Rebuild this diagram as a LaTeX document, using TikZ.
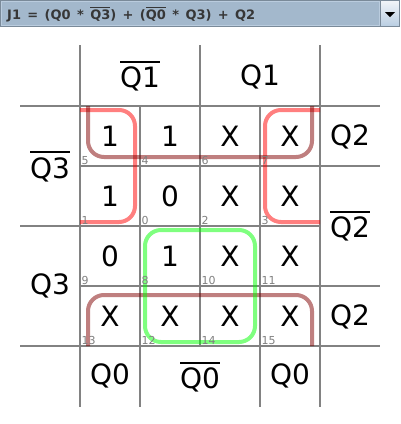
\documentclass[tikz,border=0pt]{standalone}
\usepackage{fontspec}
\setmainfont{DejaVu Sans}
\newcommand\ovl[3]{\leavevmode\vbox{\hrule height #2\kern #3\hbox{#1}}}
\definecolor{gridgray}{RGB}{130,130,130}
\definecolor{idxgray}{RGB}{128,128,128}
\definecolor{hdrfill}{RGB}{163,184,204}
\definecolor{hdrborder}{RGB}{122,138,153}
\definecolor{hdrinner}{RGB}{186,204,222}
\definecolor{btntop}{RGB}{240,244,248}
\definecolor{btnbot}{RGB}{186,206,226}
\definecolor{hdrtext}{RGB}{55,55,55}
\definecolor{loopred}{RGB}{255,0,0}
\definecolor{loopbrown}{RGB}{128,0,0}
\definecolor{loopgreen}{RGB}{0,255,0}
\tikzset{
  gridline/.style={draw=gridgray, line width=2pt},
  cellval/.style={inner sep=0pt, anchor=base, font=\fontsize{28}{32}\selectfont},
  lbl/.style={inner sep=0pt, anchor=base, font=\fontsize{28}{32}\selectfont},
  idx/.style={inner sep=0pt, anchor=base west, text=idxgray, font=\fontsize{11}{13}\selectfont},
  grp/.style={line width=4pt, draw opacity=0.5, rounded corners=16pt},
}
\begin{document}
\begin{tikzpicture}[x=1pt,y=-1pt]
\useasboundingbox (0,0) rectangle (400,424);
% header bar
\fill[hdrfill] (0,0) rectangle (400,27);
\draw[hdrinner, line width=1pt] (1.5,1.5) rectangle (379.5,25.5);
\shade[top color=btntop, bottom color=btnbot] (380,1) rectangle (399,26);
\draw[hdrborder, line width=1pt] (0.5,0.5) rectangle (399.5,26.5);
\draw[hdrborder, line width=1pt] (380.5,0.5) -- (380.5,26.5);
\fill[black] (385,12) -- (395,12) -- (390,17) -- cycle;
\node[inner sep=0pt, anchor=base west, text=hdrtext, font=\fontsize{13}{15}\bfseries] (formula) at (7,19)
  {\spaceskip=0.49em\relax J1 = (Q0 * \ovl{Q3}{1pt}{1.5pt}) + (\ovl{Q0}{1pt}{1.5pt} * Q3) + Q2};
% grid
\draw[gridline] (80,45) -- (80,407);
\draw[gridline] (320,45) -- (320,407);
\draw[gridline] (200,45) -- (200,346);
\draw[gridline] (140,106) -- (140,407);
\draw[gridline] (260,106) -- (260,407);
\draw[gridline] (20,106) -- (380,106);
\draw[gridline] (20,346) -- (380,346);
\draw[gridline] (80,166) -- (380,166);
\draw[gridline] (80,286) -- (380,286);
\draw[gridline] (20,226) -- (320,226);
% groups
\draw[grp, loopred] (80,110) -- (135,110) -- (135,222) -- (80,222);
\draw[grp, loopred] (320,110) -- (265,110) -- (265,222) -- (320,222);
\draw[grp, loopbrown] (88,106) -- (88,157) -- (312,157) -- (312,106);
\draw[grp, loopbrown] (88,346) -- (88,295) -- (312,295) -- (312,346);
\draw[grp, loopgreen] (145,230) rectangle (255,342);
% cells
\foreach \r/\c/\v/\i in {0/0/1/5, 0/1/1/4, 0/2/X/6, 0/3/X/7,
  1/0/1/1, 1/1/0/0, 1/2/X/2, 1/3/X/3,
  2/0/0/9, 2/1/1/8, 2/2/X/10, 2/3/X/11,
  3/0/X/13, 3/1/X/12, 3/2/X/14, 3/3/X/15}{
  \node[cellval] (v\i) at ({110+60*\c},{146+60*\r}) {\v};
  \node[idx] (n\i) at ({81.5+60*\c},{164.5+60*\r}) {\i};
}
% labels
\node[lbl] (q1n) at (140,87.3) {\ovl{Q1}{2pt}{4pt}};
\node[lbl] (q1) at (260,85) {Q1};
\node[lbl] (q3n) at (50,178) {\ovl{Q3}{2pt}{4pt}};
\node[lbl] (q3) at (50,294.5) {Q3};
\node[lbl] (q2a) at (350,145) {Q2};
\node[lbl] (q2n) at (350,237.7) {\ovl{Q2}{2pt}{4pt}};
\node[lbl] (q2b) at (350,325) {Q2};
\node[lbl] (q0a) at (110,384.5) {Q0};
\node[lbl] (q0n) at (200,388.3) {\ovl{Q0}{2pt}{4pt}};
\node[lbl] (q0b) at (290,384.5) {Q0};
\end{tikzpicture}
\end{document}
